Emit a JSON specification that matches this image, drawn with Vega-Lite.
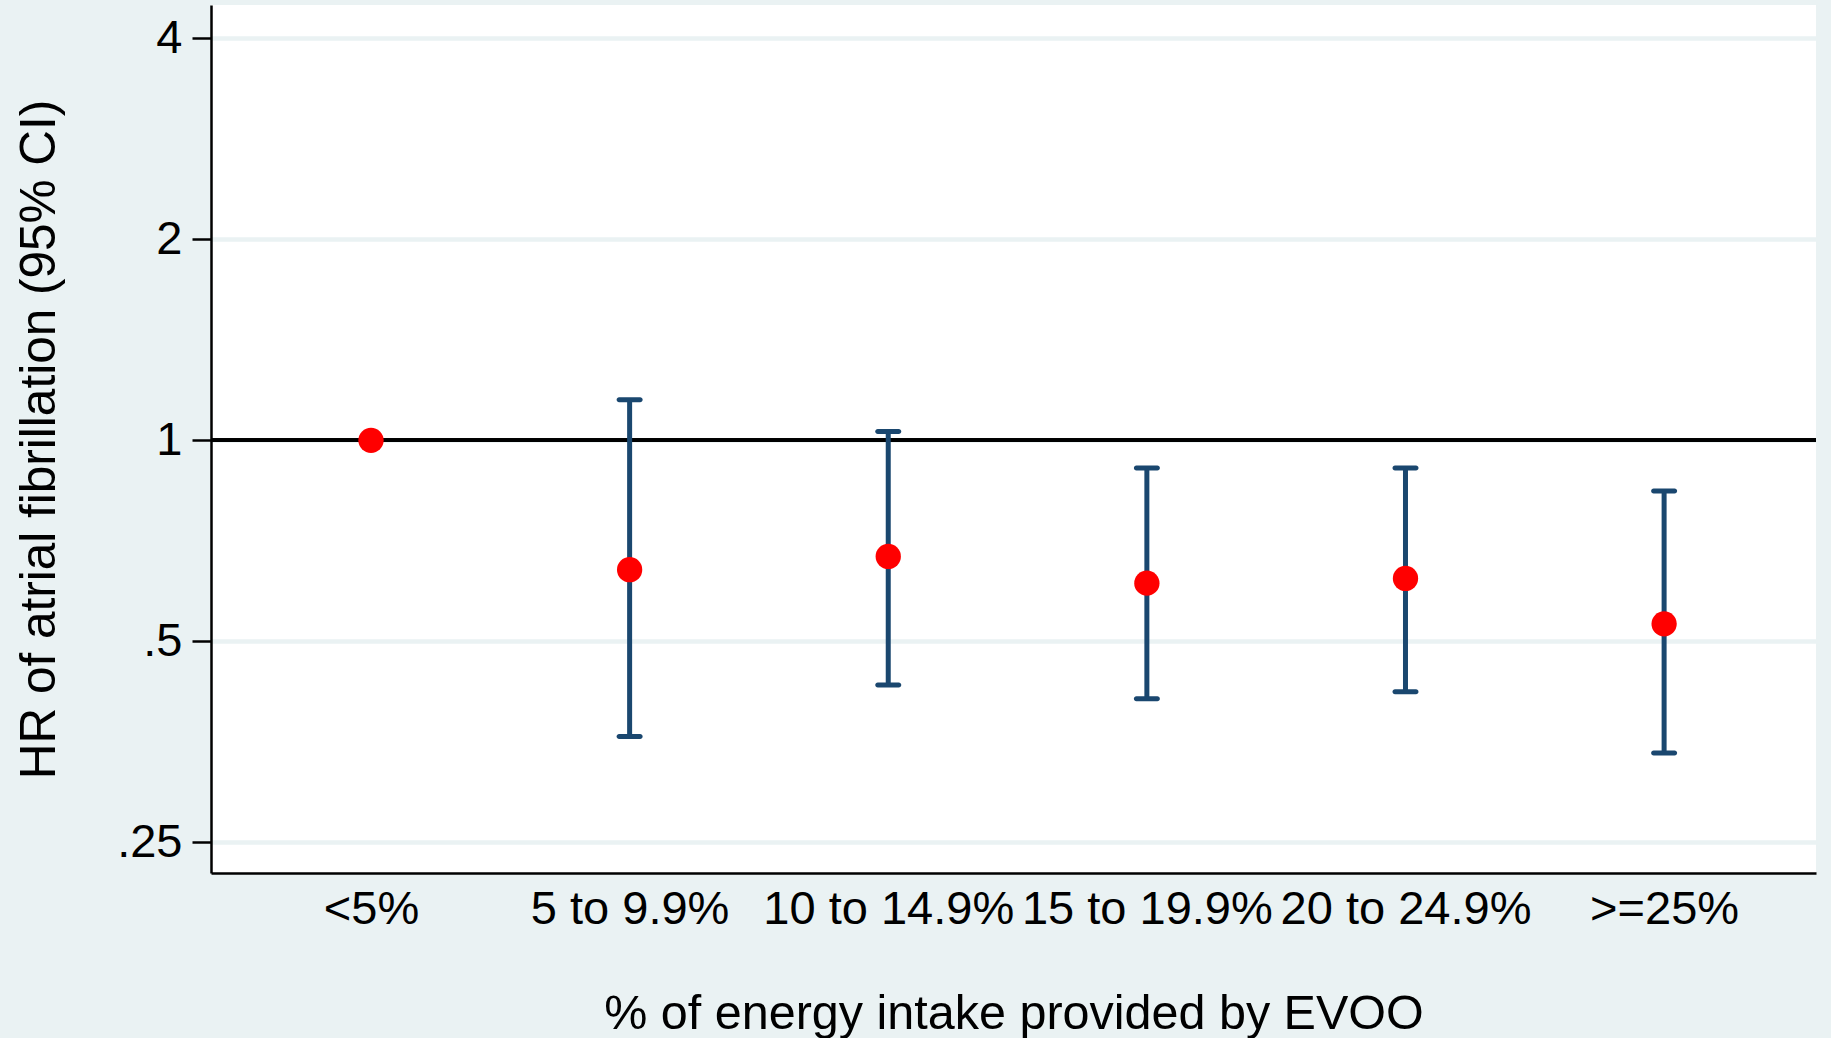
{
  "$schema": "https://vega.github.io/schema/vega-lite/v6.json",
  "autosize": "none",
  "width": 1605,
  "height": 868,
  "padding": {"left": 211, "top": 5, "right": 15, "bottom": 165},
  "background": "#eaf2f3",
  "config": {
    "view": {"fill": "white", "stroke": null},
    "font": "Liberation Sans"
  },
  "data": {
    "values": [
      {"group": "<5%", "hr": 1.0, "lower": null, "upper": null},
      {"group": "5 to 9.9%", "hr": 0.640, "lower": 0.360, "upper": 1.150},
      {"group": "10 to 14.9%", "hr": 0.670, "lower": 0.430, "upper": 1.031},
      {"group": "15 to 19.9%", "hr": 0.611, "lower": 0.410, "upper": 0.909},
      {"group": "20 to 24.9%", "hr": 0.621, "lower": 0.420, "upper": 0.909},
      {"group": ">=25%", "hr": 0.531, "lower": 0.340, "upper": 0.840}
    ]
  },
  "encoding": {
    "x": {
      "field": "group",
      "type": "ordinal",
      "sort": ["<5%", "5 to 9.9%", "10 to 14.9%", "15 to 19.9%", "20 to 24.9%", ">=25%"],
      "scale": {"type": "point", "padding": 0.603, "align": 0.513},
      "axis": {
        "title": "% of energy intake provided by EVOO",
        "titleFont": "Liberation Sans",
        "titleFontSize": 48.5,
        "titleFontWeight": "normal",
        "titleColor": "black",
        "titleBaseline": "alphabetic",
        "titleY": 155,
        "labelAngle": 0,
        "labelFontSize": 47,
        "labelColor": "black",
        "labelBaseline": "alphabetic",
        "labelPadding": 50,
        "labelOverlap": false,
        "labelFlush": false,
        "labelLimit": 0,
        "ticks": false,
        "tickSize": 0,
        "grid": false,
        "domainColor": "black",
        "domainWidth": 2.5
      }
    }
  },
  "layer": [
    {
      "mark": {"type": "rule", "color": "black", "strokeWidth": 3.5},
      "encoding": {
        "x": null,
        "y": {
          "datum": 1,
          "type": "quantitative",
          "scale": {"type": "log", "base": 2, "domain": [0.2248, 4.49], "nice": false, "zero": false},
          "axis": {
            "title": "HR of atrial fibrillation (95% CI)",
            "titleFont": "Liberation Sans",
            "titleFontSize": 49.5,
            "titleFontWeight": "normal",
            "titleColor": "black",
            "titleBaseline": "alphabetic",
            "titleAngle": 270,
            "titleX": -157,
            "titleY": 434,
            "titleAlign": "center",
            "values": [0.25, 0.5, 1, 2, 4],
            "labelExpr": "datum.value == 0.25 ? '.25' : datum.value == 0.5 ? '.5' : datum.label",
            "labelFontSize": 47,
            "labelColor": "black",
            "labelPadding": 10,
            "labelFlush": false,
            "tickSize": 19,
            "tickWidth": 2.5,
            "tickColor": "black",
            "domainColor": "black",
            "domainWidth": 2.5,
            "grid": true,
            "gridColor": "#eaf2f3",
            "gridWidth": 4.5,
            "gridOpacity": 1
          }
        }
      }
    },
    {
      "mark": {"type": "rule", "color": "#1a476f", "strokeWidth": 5},
      "encoding": {
        "y": {"field": "lower", "type": "quantitative"},
        "y2": {"field": "upper"}
      }
    },
    {
      "mark": {"type": "tick", "color": "#1a476f", "orient": "horizontal", "size": 26, "thickness": 5, "cornerRadius": 2.5, "opacity": 1},
      "encoding": {
        "y": {"field": "lower", "type": "quantitative"}
      }
    },
    {
      "mark": {"type": "tick", "color": "#1a476f", "orient": "horizontal", "size": 26, "thickness": 5, "cornerRadius": 2.5, "opacity": 1},
      "encoding": {
        "y": {"field": "upper", "type": "quantitative"}
      }
    },
    {
      "mark": {"type": "point", "shape": "circle", "filled": true, "color": "#ff0000", "size": 640, "opacity": 1},
      "encoding": {
        "y": {"field": "hr", "type": "quantitative"}
      }
    }
  ]
}
